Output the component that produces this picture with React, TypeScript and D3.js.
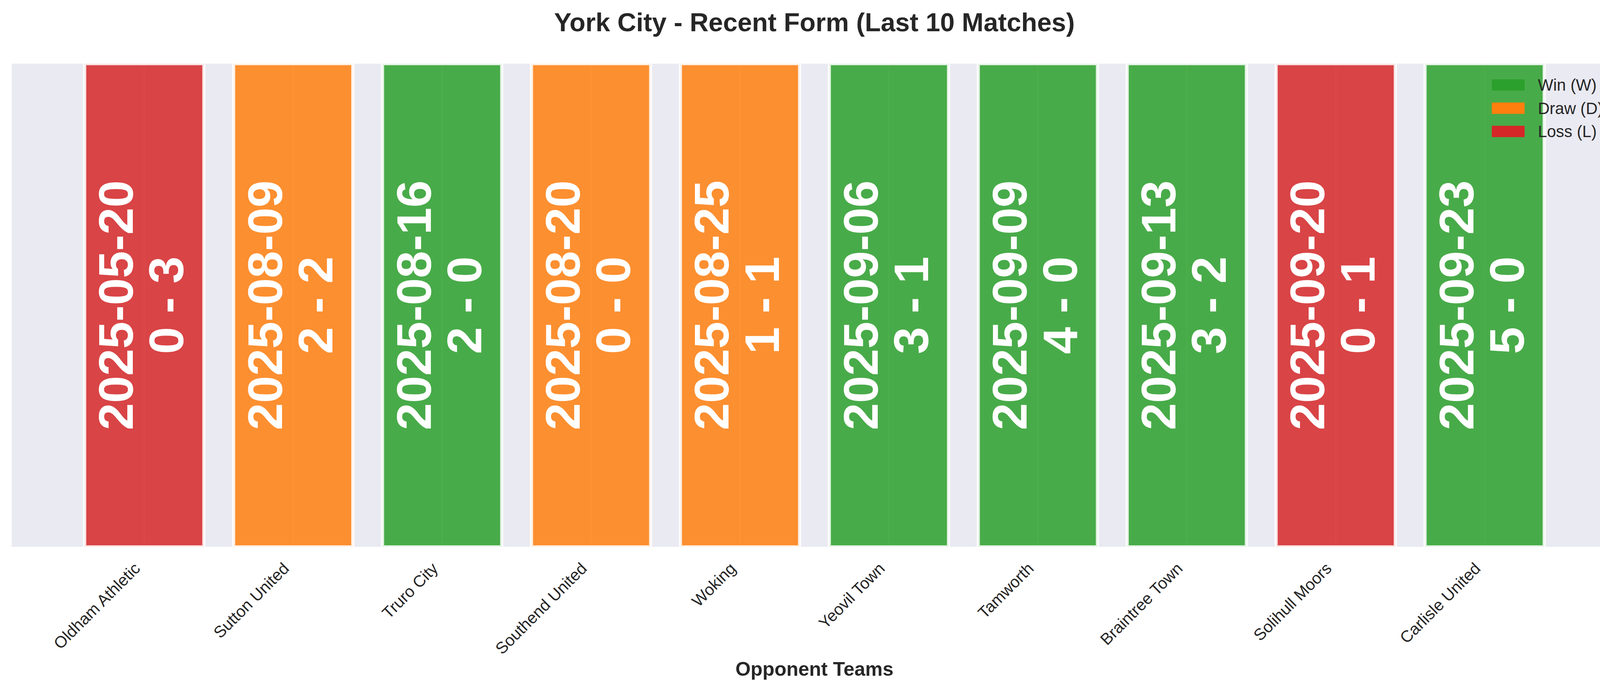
import * as d3 from "d3"
import React, { useEffect } from "react"

const opponents = [
  "Oldham Athletic",
  "Sutton United",
  "Truro City",
  "Southend United",
  "Woking",
  "Yeovil Town",
  "Tamworth",
  "Braintree Town",
  "Solihull Moors",
  "Carlisle United",
]
const matchDates = [
  "2025-05-20",
  "2025-08-09",
  "2025-08-16",
  "2025-08-20",
  "2025-08-25",
  "2025-09-06",
  "2025-09-09",
  "2025-09-13",
  "2025-09-20",
  "2025-09-23",
]
const scores = ["0 - 3", "2 - 2", "2 - 0", "0 - 0", "1 - 1", "3 - 1", "4 - 0", "3 - 2", "0 - 1", "5 - 0"]
const results = ["L", "D", "W", "D", "D", "W", "W", "W", "L", "W"]

const resultKeys = ["W", "D", "L"]
const resultLabels = ["Win (W)", "Draw (D)", "Loss (L)"]
const resultColors = ["#2ca02c", "#ff7f0e", "#d62728"]

const width = 4170,
  height = 1769
const margin = { top: 163, right: 30, bottom: 369, left: 30 }
const font = "'Liberation Sans', Arial, Helvetica, sans-serif"
const ink = "#262626"

function App() {
  useEffect(() => {
    document.body.style.margin = "0"
  }, [])

  const n = opponents.length
  const barWidth = 0.8
  const lo = -barWidth / 2,
    hi = n - 1 + barWidth / 2
  const pad = (hi - lo) * 0.05

  const x = d3
    .scaleLinear()
    .domain([lo - pad, hi + pad])
    .range([margin.left, width - margin.right])

  const y = d3
    .scaleLinear()
    .domain([0, 1])
    .range([height - margin.bottom, margin.top])

  const color = d3.scaleOrdinal<string, string>().domain(resultKeys).range(resultColors)

  const plotW = width - margin.left - margin.right
  const plotH = y(0) - y(1)
  const midY = y(0.5)

  return (
    <svg width={width} height={height} style={{ display: "block", background: "#fff" }}>
      <defs>
        <clipPath id="plot">
          <rect x={margin.left} y={margin.top} width={plotW} height={plotH} />
        </clipPath>
      </defs>

      <text
        x={x((lo + hi) / 2)}
        y={80}
        textAnchor="middle"
        fontFamily={font}
        fontWeight="bold"
        fontSize={66.7}
        fill={ink}
      >
        York City - Recent Form (Last 10 Matches)
      </text>

      <rect x={margin.left} y={margin.top} width={plotW} height={plotH} fill="#eaeaf2" />

      <g clipPath="url(#plot)">
        {/* vertical grid at ticks, shows through the translucent bars */}
        {d3.range(n).map((i) => (
          <line key={"g" + i} x1={x(i)} x2={x(i)} y1={y(0)} y2={y(1)} stroke="#fff" strokeWidth={4} />
        ))}
        {results.map((r, i) => (
          <rect
            key={"b" + i}
            x={x(i - barWidth / 2)}
            y={y(1)}
            width={x(barWidth) - x(0)}
            height={y(0) - y(1)}
            fill={color(r)}
            fillOpacity={0.85}
            stroke="#fff"
            strokeOpacity={0.85}
            strokeWidth={8}
          />
        ))}
      </g>

      {matchDates.map((d, i) => (
        <text
          key={"t" + i}
          transform={`translate(${x(i)},${midY}) rotate(-90)`}
          textAnchor="middle"
          fontFamily={font}
          fontWeight="bold"
          fontSize={125}
          fill="#fff"
        >
          <tspan x={0} y={-29}>
            {d}
          </tspan>
          <tspan x={0} y={100}>
            {scores[i]}
          </tspan>
        </text>
      ))}

      {opponents.map((name, i) => (
        <text
          key={"x" + i}
          transform={`translate(${x(i) - 8},${y(0) + 58}) rotate(-45)`}
          textAnchor="end"
          fontFamily={font}
          fontSize={41.7}
          fill={ink}
        >
          {name}
        </text>
      ))}

      <text
        x={x((lo + hi) / 2)}
        y={1730}
        textAnchor="middle"
        fontFamily={font}
        fontWeight="bold"
        fontSize={50}
        fill={ink}
      >
        Opponent Teams
      </text>

      <g transform="translate(3819,203)">
        {resultKeys.map((k, i) => (
          <g key={k} transform={`translate(0,${i * 59.5})`}>
            <rect width={84} height={29} fill={color(k)} />
            <text x={118} y={29} fontFamily={font} fontSize={41.7} fill={ink}>
              {resultLabels[i]}
            </text>
          </g>
        ))}
      </g>
    </svg>
  )
}

export default App
